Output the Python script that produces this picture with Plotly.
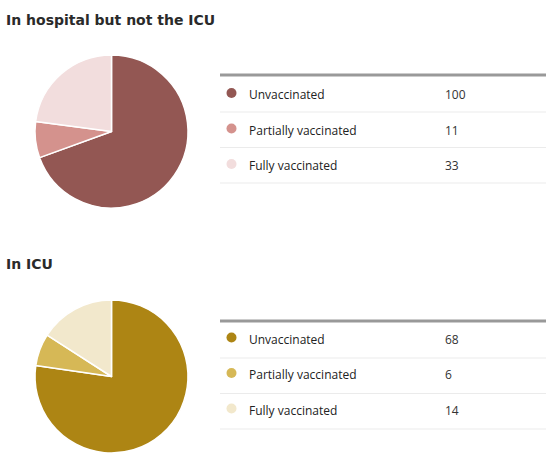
import plotly.graph_objects as go

W, H = 554, 473

categories = ["Unvaccinated", "Partially vaccinated", "Fully vaccinated"]
hospital_values = [100, 11, 33]
icu_values = [68, 6, 14]
hospital_colors = ["#935753", "#d4928d", "#f2dddd"]
icu_colors = ["#ad8514", "#d6b856", "#f2e8cc"]
titles = ["In hospital but not the ICU", "In ICU"]

def px_x(x):
    return x / W

def px_y(y):
    return 1 - y / H

fig = go.Figure()

sections = [
    dict(values=hospital_values, colors=hospital_colors, title=titles[0],
         title_y=20, pie_top=55, table_top=75, row0=19.5),
    dict(values=icu_values, colors=icu_colors, title=titles[1],
         title_y=264, pie_top=300, table_top=321, row0=18),
]

shapes = []
annotations = []
for s in sections:
    size = 153
    fig.add_trace(go.Pie(
        labels=categories, values=s["values"], sort=False, direction="clockwise",
        rotation=0, marker=dict(colors=s["colors"], line=dict(color="white", width=1.5)),
        textinfo="none", hoverinfo="label+value", showlegend=False,
        domain=dict(x=[px_x(35), px_x(35 + size)], y=[px_y(s["pie_top"] + size), px_y(s["pie_top"])]),
    ))
    annotations.append(dict(
        text=f"<b>{s['title']}</b>", x=px_x(4), y=px_y(s["title_y"]), xref="paper", yref="paper",
        xanchor="left", yanchor="middle", showarrow=False,
        font=dict(family="DejaVu Sans", size=14, color="#2a2a2a"),
    ))
    t = s["table_top"]
    shapes.append(dict(type="line", xref="paper", yref="paper", x0=px_x(220), x1=px_x(546),
                       y0=px_y(t), y1=px_y(t), line=dict(color="#999999", width=3)))
    for i, (cat, val, col) in enumerate(zip(categories, s["values"], s["colors"])):
        cy = t + s["row0"] + i * 35.5
        sep = t + 37 + i * 35.5
        shapes.append(dict(type="line", xref="paper", yref="paper", x0=px_x(220), x1=px_x(546),
                           y0=px_y(sep), y1=px_y(sep), line=dict(color="#ebebeb", width=1)))
        shapes.append(dict(type="circle", xref="paper", yref="paper",
                           x0=px_x(226.5), x1=px_x(236.5), y0=px_y(cy - 6.5), y1=px_y(cy + 3.5),
                           fillcolor=col, line=dict(width=0)))
        annotations.append(dict(
            text=cat, x=px_x(247), y=px_y(cy), xref="paper", yref="paper",
            xanchor="left", yanchor="middle", showarrow=False,
            font=dict(family="Open Sans", size=12, color="#222222"),
        ))
        annotations.append(dict(
            text=str(val), x=px_x(443), y=px_y(cy), xref="paper", yref="paper",
            xanchor="left", yanchor="middle", showarrow=False,
            font=dict(family="Open Sans", size=12, color="#333333"),
        ))

fig.update_layout(
    width=W, height=H, margin=dict(l=0, r=0, t=0, b=0),
    paper_bgcolor="white", plot_bgcolor="white",
    shapes=shapes, annotations=annotations,
)

fig.write_html("out.html", config={"displayModeBar": False},
               post_script="document.body.style.margin='0';document.body.style.overflow='hidden';")
